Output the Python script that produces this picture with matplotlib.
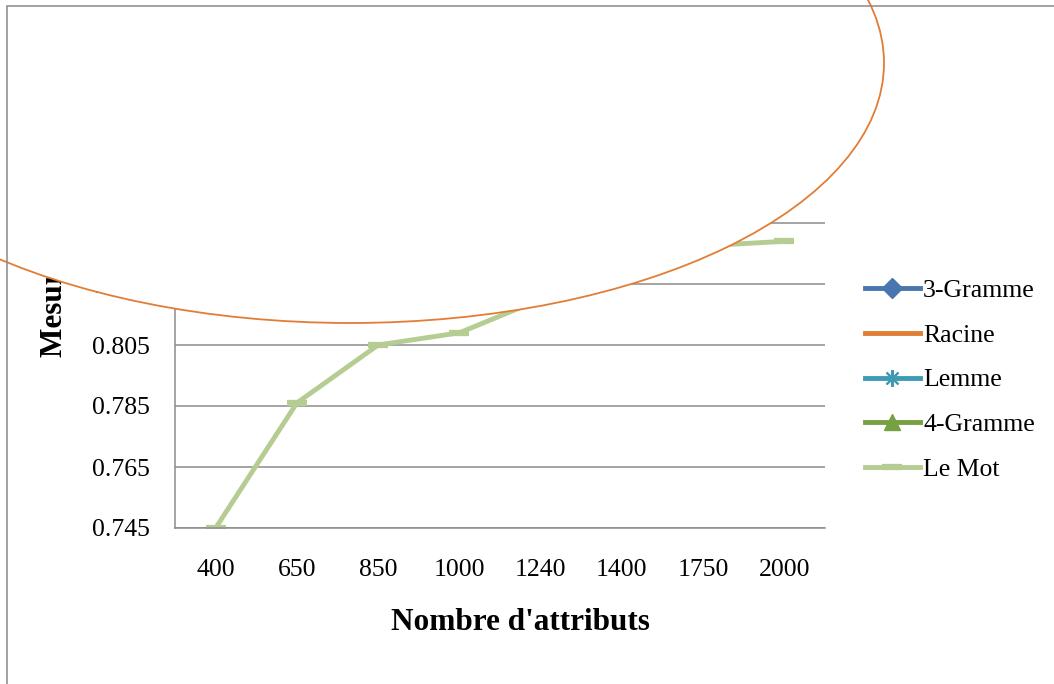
import matplotlib.pyplot as plt
from matplotlib.patches import Ellipse, Rectangle

plt.rcParams['font.family'] = 'Liberation Serif'

attributs = ['400', '650', '850', '1000', '1240', '1400', '1750', '2000']
# visible series
le_mot = [0.745, 0.786, 0.805, 0.809, 0.820, 0.829, 0.8375, 0.839]
# series hidden under the ellipse (estimated)
gramme3 = [0.862, 0.870, 0.876, 0.879, 0.882, 0.884, 0.886, 0.887]
racine = [0.866, 0.873, 0.878, 0.881, 0.884, 0.886, 0.888, 0.889]
lemme = [0.864, 0.871, 0.877, 0.880, 0.883, 0.885, 0.887, 0.888]
gramme4 = [0.860, 0.868, 0.874, 0.877, 0.880, 0.882, 0.884, 0.885]
y_ticks = [0.745, 0.765, 0.785, 0.805, 0.825, 0.845, 0.865, 0.885, 0.905]

W, H = 1054, 684
fig = plt.figure(figsize=(W / 100, H / 100), dpi=100)
ax = fig.add_axes([175 / W, 156 / H, 650 / W, 488 / H])

x = range(len(attributs))
lw = 3.5
ax.plot(x, gramme3, color='#4A76B0', lw=lw, marker='D', ms=10, label='3-Gramme')
ax.plot(x, racine, color='#E27D35', lw=lw, label='Racine')
ax.plot(x, lemme, color='#3E9BB3', lw=lw, marker=(8, 2, 0), ms=12, mew=1.5,
        label='Lemme')
ax.plot(x, gramme4, color='#77A043', lw=lw, marker='^', ms=12, label='4-Gramme')
ax.plot(x, le_mot, color='#B5CD92', lw=lw, marker='_', ms=14, mew=4.5,
        label='Le Mot')

ax.set_xlim(-0.5, len(attributs) - 0.5)
ax.set_ylim(0.745, 0.905)
ax.set_xticks(list(x))
ax.set_xticklabels(attributs)
ax.set_yticks(y_ticks)
ax.set_yticklabels(['%.3f' % v for v in y_ticks])
ax.tick_params(length=0, labelsize=18.5)
ax.tick_params(axis='x', pad=22.5)
ax.tick_params(axis='y', pad=18)
ax.grid(axis='y', color='#8C8C8C', lw=1.1)
ax.set_axisbelow(True)
for s in ['top', 'right']:
    ax.spines[s].set_visible(False)
for s in ['left', 'bottom']:
    ax.spines[s].set_color('#8C8C8C')
    ax.spines[s].set_linewidth(1.1)

ax.set_xlabel("Nombre d'attributs", fontsize=22.5, fontweight='bold', va='center')
ax.xaxis.set_label_coords((520 - 175) / 650, (528 - 622) / 488)
ax.set_ylabel('Mesure F', fontsize=22.5, fontweight='bold', ha='left', va='center')
ax.yaxis.set_label_coords((54 - 175) / 650, (528 - 357) / 488)

ax.legend(loc='center left', bbox_to_anchor=(865 / W, (H - 380) / H),
          bbox_transform=fig.transFigure, frameon=False, borderaxespad=0,
          borderpad=0, handlelength=2.14, handletextpad=0.12,
          labelspacing=0.85, fontsize=18.5)

# white ellipse drawn over the chart
ell = Ellipse((350 / W, (H - 63) / H), 1068 / W, 520 / H, transform=fig.transFigure,
              facecolor='white', edgecolor='#E27D35', lw=1.3, zorder=1)
fig.add_artist(ell)

# outer chart border
frame = Rectangle((7 / W, -0.1), 1.2, (H - 6) / H + 0.1, transform=fig.transFigure,
                  fill=False, edgecolor='#898989', lw=1.1, zorder=2)
fig.add_artist(frame)

fig.savefig('out.png', dpi=100)
